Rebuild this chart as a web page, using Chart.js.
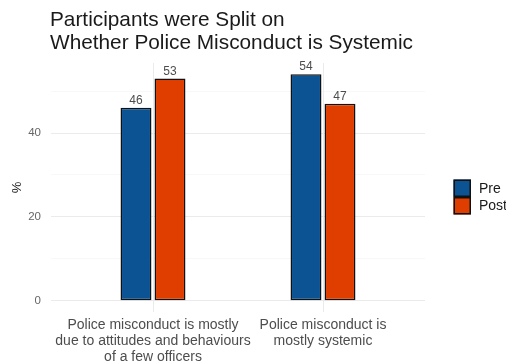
<!DOCTYPE html>
<html>
<head>
<meta charset="utf-8">
<script src="https://cdn.jsdelivr.net/npm/chart.js@4"></script>
<style>
  html, body { margin: 0; padding: 0; background: #fff; }
  #wrap { width: 506px; height: 364px; position: relative; }
</style>
</head>
<body>
<div id="wrap"><canvas id="chart" width="506" height="364"></canvas></div>
<script>
// --- data ---
const categories = [
  ['Police misconduct is mostly', 'due to attitudes and behaviours', 'of a few officers'],
  ['Police misconduct is', 'mostly systemic']
];
const preValues = [46, 54];
const postValues = [53, 47];
const seriesNames = ['Pre', 'Post'];
const seriesColors = ['#0b5393', '#e03e00'];
const titleLines = ['Participants were Split on', 'Whether Police Misconduct is Systemic'];
const yTicks = [0, 10, 20, 30, 40, 50];
const yLabelTicks = [0, 20, 40];
const yTitle = '%';

const FONT = '"Liberation Sans", Arial, sans-serif';
const GRAY = '#4d4d4d';

// title, value labels and legend
const extras = {
  id: 'extras',
  afterDatasetsDraw(chart) {
    const ctx = chart.ctx;
    ctx.save();
    // value labels above bars
    ctx.font = '12px ' + FONT;
    ctx.fillStyle = GRAY;
    ctx.textAlign = 'center';
    ctx.textBaseline = 'alphabetic';
    chart.data.datasets.forEach((ds, i) => {
      chart.getDatasetMeta(i).data.forEach((bar, j) => {
        ctx.fillText(String(ds.data[j].y), bar.x, bar.y - 4);
      });
    });

    // title
    ctx.fillStyle = '#1a1a1a';
    ctx.textAlign = 'left';
    ctx.font = '20.8px ' + FONT;
    titleLines.forEach((t, i) => ctx.fillText(t, 50, 26 + i * 22.5));

    // legend
    const lx = 453.5, ly = 179.5, box = 17.5;
    ctx.font = '14px ' + FONT;
    ctx.textBaseline = 'middle';
    seriesNames.forEach((name, i) => {
      const y = ly + i * box;
      ctx.fillStyle = seriesColors[i];
      ctx.fillRect(lx, y, box, box);
      ctx.strokeStyle = '#111';
      ctx.lineWidth = 1.5;
      ctx.strokeRect(lx + 0.75, y + 0.75, box - 1.5, box - 1.5);
      ctx.fillStyle = '#1a1a1a';
      ctx.fillText(name, 479, y + box / 2 + 0.5);
    });
    ctx.restore();
  }
};

const ctx = document.getElementById('chart').getContext('2d');
new Chart(ctx, {
  type: 'bar',
  data: {
    datasets: [
      {
        label: seriesNames[0],
        data: preValues.map((v, i) => ({ x: i + 1, y: v })),
        backgroundColor: seriesColors[0]
      },
      {
        label: seriesNames[1],
        data: postValues.map((v, i) => ({ x: i + 1, y: v })),
        backgroundColor: seriesColors[1]
      }
    ]
  },
  options: {
    responsive: false,
    animation: false,
    devicePixelRatio: 1,
    layout: { padding: { top: 63, right: 81, left: 0, bottom: 0 } },
    datasets: {
      bar: {
        borderColor: '#111',
        borderWidth: 1.5,
        borderSkipped: false,
        categoryPercentage: 0.4,
        barPercentage: 0.91
      }
    },
    plugins: {
      legend: { display: false },
      tooltip: { enabled: false }
    },
    scales: {
      x: {
        type: 'linear',
        offset: false,
        min: 0.4,
        max: 2.6,
        afterBuildTicks: (s) => { s.ticks = [{ value: 1 }, { value: 2 }]; },
        afterFit: (s) => { s.height = 52; },
        border: { display: false },
        grid: { offset: false, color: '#ebebeb', lineWidth: 1, drawTicks: false },
        ticks: {
          padding: 5,
          color: GRAY,
          font: { family: FONT, size: 14, lineHeight: 1.15 },
          maxRotation: 0,
          autoSkip: false,
          callback: (v) => categories[v - 1] || ''
        }
      },
      y: {
        min: -2.7,
        max: 56.7,
        afterBuildTicks: (s) => { s.ticks = yTicks.map(v => ({ value: v })); },
        afterFit: (s) => { s.width = 51; },
        border: { display: false },
        grid: {
          drawTicks: false,
          color: (c) => yLabelTicks.includes(c.tick.value) ? '#ebebeb' : '#f4f4f4',
          lineWidth: (c) => yLabelTicks.includes(c.tick.value) ? 1 : 0.6
        },
        title: {
          display: true,
          text: yTitle,
          color: '#1a1a1a',
          font: { family: FONT, size: 13 },
          padding: { top: 10, bottom: 4 }
        },
        ticks: {
          padding: 10,
          color: '#666',
          font: { family: FONT, size: 11.5 },
          callback: (v) => yLabelTicks.includes(v) ? String(v) : ''
        }
      }
    }
  },
  plugins: [extras]
});
</script>
</body>
</html>
